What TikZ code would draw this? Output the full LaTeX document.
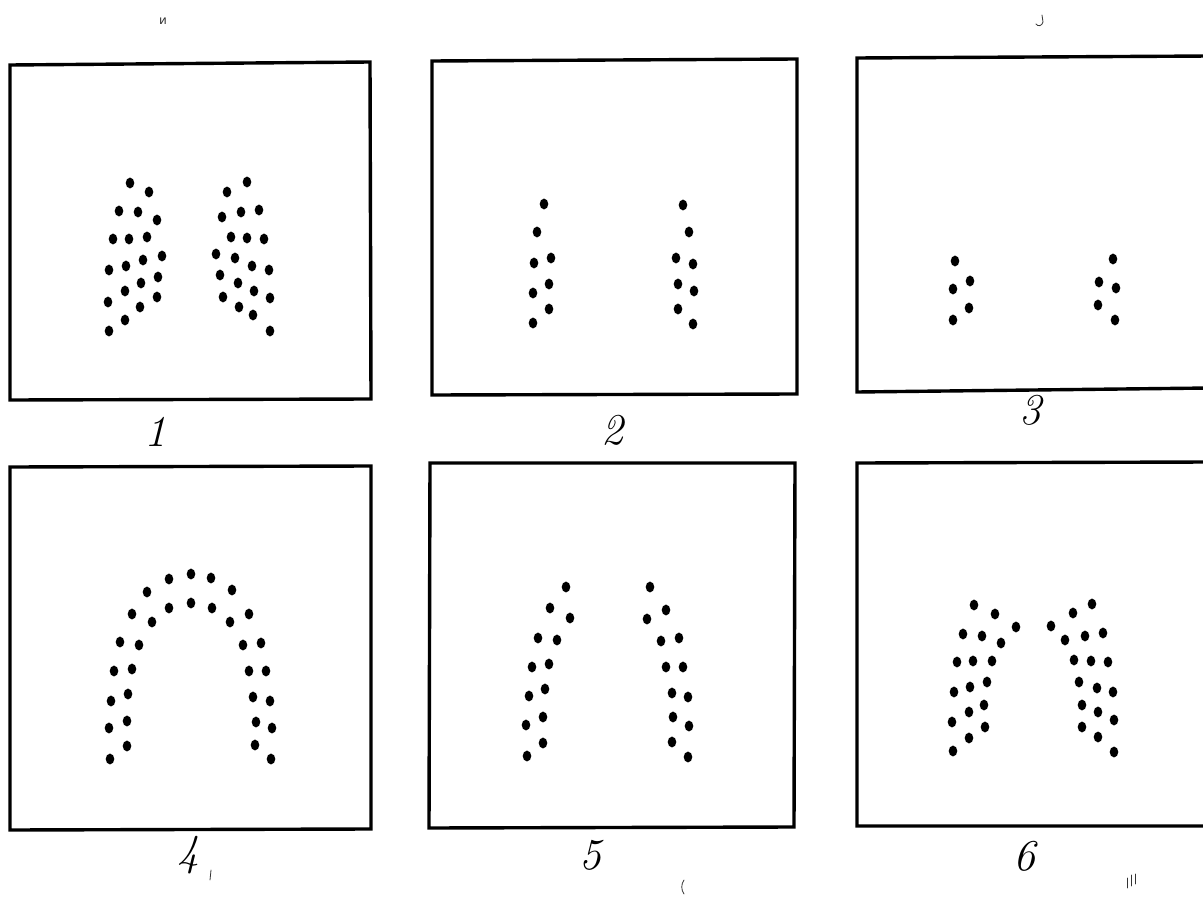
\documentclass[tikz,border=0pt]{standalone}
\usepackage{fontspec}
\newfontfamily\cyr{DejaVu Sans}
\begin{document}
\begin{tikzpicture}[x=1pt,y=-1pt,
  frame/.style={line width=3.4pt, line join=miter},
  num/.style={font=\fontsize{44}{44}\selectfont\itshape, inner sep=0pt},
  stray/.style={line width=0.8pt, line cap=round, black!80}]
\useasboundingbox (0,0) rectangle (1203,915);
\fill[white] (0,0) rectangle (1203,915);
% frames
\draw[frame] (10,65) -- (370,62) -- (371,399) -- (10,400) -- cycle;
\draw[frame] (432,61) -- (797,59) -- (797,394) -- (432,395) -- cycle;
\draw[frame] (1210,56) -- (857,58) -- (857,392) -- (1210,388);
\draw[frame] (10,467) -- (371,466) -- (371,829) -- (10,830) -- cycle;
\draw[frame] (430,463) -- (795,463) -- (794,827) -- (429,828) -- cycle;
\draw[frame] (1210,462) -- (857,463) -- (857,826) -- (1210,826);
% dots
\foreach \x/\y in {
130/183,149/192,119/211,138/212,157/220,113/239,129/239,147/237,162/256,109/270,126/266,143/260,158/277,141/283,125/291,108/302,157/297,140/307,125/320,109/331,
247/182,227/192,259/210,241/212,222/217,231/237,247/238,264/239,216/254,235/258,252/266,269/270,220/275,238/283,254/291,223/297,270/298,239/307,253/315,270/331,
544/204,537/232,534/263,551/258,533/293,549/284,549/309,533/323,
683/205,689/232,676/258,693/264,678/284,694/291,678/309,693/324,
955/261,953/289,970/281,969/308,953/320,
1113/259,1099/282,1116/288,1098/305,1115/320,
169/579,191/574,211/578,147/592,232/590,169/608,191/603,212/608,132/614,152/622,230/622,249/614,120/642,139/645,243/645,261/643,114/671,132/669,249/671,266/671,111/701,128/694,253/697,270/701,109/728,127/721,256/722,272/728,127/746,110/759,255/745,271/759,
566/587,550/608,570/618,538/638,557/640,532/667,549/664,529/696,545/689,526/725,543/717,527/756,543/743,
650/587,666/610,647/619,661/641,679/638,666/667,683/667,672/693,688/697,673/717,689/726,672/742,688/757,
974/605,995/614,963/634,982/636,1001/643,1016/627,957/662,973/661,992/661,954/692,970/687,987/682,952/722,969/712,984/705,969/738,985/727,953/751,
1092/604,1073/613,1051/626,1065/640,1085/636,1103/633,1074/660,1091/661,1108/662,1079/682,1097/688,1113/692,1082/705,1098/712,1114/720,1082/727,1098/737,1114/752}
  \fill (\x,\y) ellipse [x radius=4.3, y radius=5.4];
% labels
\node[num] (l1) at (155,432) {1};
\node[num] (l2) at (612,430) {2};
\node[num] (l3) at (1030,410) {3};
\node[num] (l4) at (188,855) {4};
\node[num] (l5) at (590,855) {5};
\node[num] (l6) at (1024,856) {6};
% stray marks
\node[font=\cyr\fontsize{12}{12}\selectfont, inner sep=0pt, black!80] (m1) at (163,21) {и};
\draw[stray] (1042,15) -- (1043,22) .. controls (1042,26) and (1038,27) .. (1036,24);
\draw[stray] (211,870) -- (210,880);
\draw[stray] (684,880) .. controls (681,884) and (681,890) .. (684,894);
\draw[stray] (1127,878) -- (1127,888) (1131,875) -- (1131,886) (1135,874) -- (1135,884);
\end{tikzpicture}
\end{document}
